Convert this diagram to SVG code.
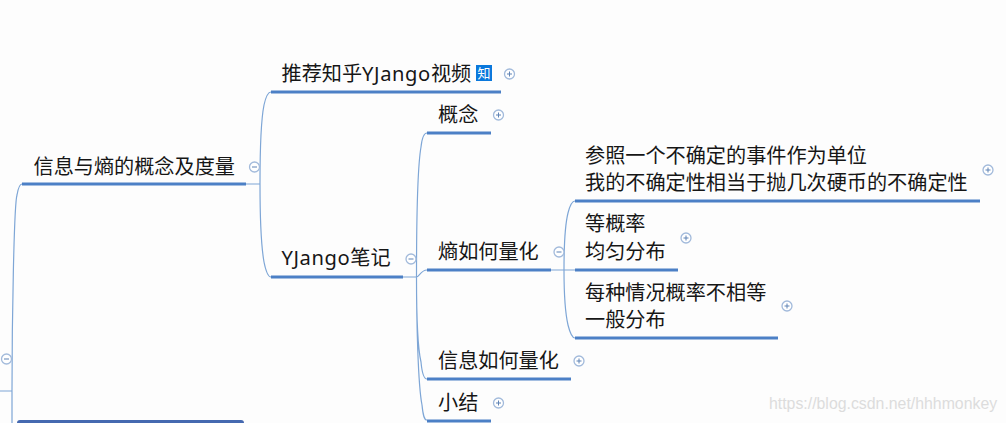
<svg xmlns="http://www.w3.org/2000/svg" width="1006" height="423" viewBox="0 0 1006 423">
<defs>
<style>
text{font-family:"Noto Sans","Noto Sans CJK SC",sans-serif;font-size:20.15px;fill:#161616}
.lat{letter-spacing:.6px}
.bar{fill:none;stroke:#4c80c6;stroke-width:3}
.con{fill:none;stroke:#7ea6d6;stroke-width:1.2}
.tog circle{fill:#fff;stroke:#a2badb;stroke-width:1.3}
.tog path{fill:none;stroke:#5f83b5;stroke-width:1}
</style>
<g id="minus" class="tog"><circle r="5"/><path d="M-2.5 0H2.5"/></g>
<g id="plus" class="tog"><circle r="5"/><path d="M-2.5 0H2.5M0-2.5V2.5"/></g>
</defs>
<rect width="1006" height="423" fill="#fdfdfd"/>
<g id="connectors">
<path class="con" d="M0 391H12M12 423V391C12 320 14 205 17 195C18 189 20 184 22 184"/>
<path class="con" d="M246 184H260M260 184C260 160 261 120 264 105C266 96 268 92 271 92M260 184C260 210 261 245 264 262C266 272 268 277 271 277"/>
<path class="con" d="M403 277H416.500M416.500 277C416.500 230 417 170 421 147C422 138 424 133 427 133M416.500 277C419 277 421 270 427 270M416.500 277C416.500 310 417 345 421 362C422 373 424 379 427 379M416.500 277C416.500 320 418 385 422 405C423 415 424 420 427 420"/>
<path class="con" d="M551 270H575M564 270C564 245 565 225 568 213C570 205 572 201 575 201M564 270C564 295 565 312 568 325C570 333 572 338 575 338"/>
</g>
<g id="n-root"><rect x="17" y="420" width="227" height="8" rx="3" fill="#4569b0"/><use href="#minus" x="6.500" y="359"/></g>
<g id="n-info"><path class="bar" d="M22 184H246"/><text x="33.500" y="174">信息与熵的概念及度量</text><use href="#minus" x="254.500" y="167"/></g>
<g id="n-rec"><path class="bar" d="M271 92H501"/><text x="281.500" y="81">推荐知乎<tspan class="lat">YJango</tspan>视频</text><rect x="476" y="65" width="16" height="16" fill="#0a78dc"/><text x="477.500" y="77.500" style="font-size:13px;fill:#fff">知</text><use href="#plus" x="509.500" y="74"/></g>
<g id="n-yj"><path class="bar" d="M271 277H403"/><text x="281.500" y="265"><tspan class="lat">YJango</tspan>笔记</text><use href="#minus" x="411" y="259"/></g>
<g id="n-gn"><path class="bar" d="M427 133H491"/><text x="438" y="122">概念</text><use href="#plus" x="498.500" y="115"/></g>
<g id="n-sh"><path class="bar" d="M427 270H551"/><text x="438" y="259">熵如何量化</text><use href="#minus" x="559" y="252"/></g>
<g id="n-xx"><path class="bar" d="M427 379H571"/><text x="438" y="368">信息如何量化</text><use href="#plus" x="579" y="361"/></g>
<g id="n-xj"><path class="bar" d="M427 421H491"/><text x="438" y="410">小结</text><use href="#plus" x="498.500" y="403"/></g>
<g id="n-cz"><path class="bar" d="M575 201H980"/><text x="585" y="163">参照一个不确定的事件作为单位</text><text x="585" y="190">我的不确定性相当于抛几次硬币的不确定性</text><use href="#plus" x="988" y="170"/></g>
<g id="n-dgl"><path class="bar" d="M575 270H678"/><text x="585" y="231">等概率</text><text x="585" y="259">均匀分布</text><use href="#plus" x="686" y="238"/></g>
<g id="n-mz"><path class="bar" d="M575 338H778"/><text x="585" y="300">每种情况概率不相等</text><text x="585" y="327">一般分布</text><use href="#plus" x="787" y="306"/></g>
<text x="769" y="409" style="font-family:'Liberation Sans',sans-serif;font-size:15.85px;fill:#dcdcdc">https://blog.csdn.net/hhhmonkey</text>
</svg>
